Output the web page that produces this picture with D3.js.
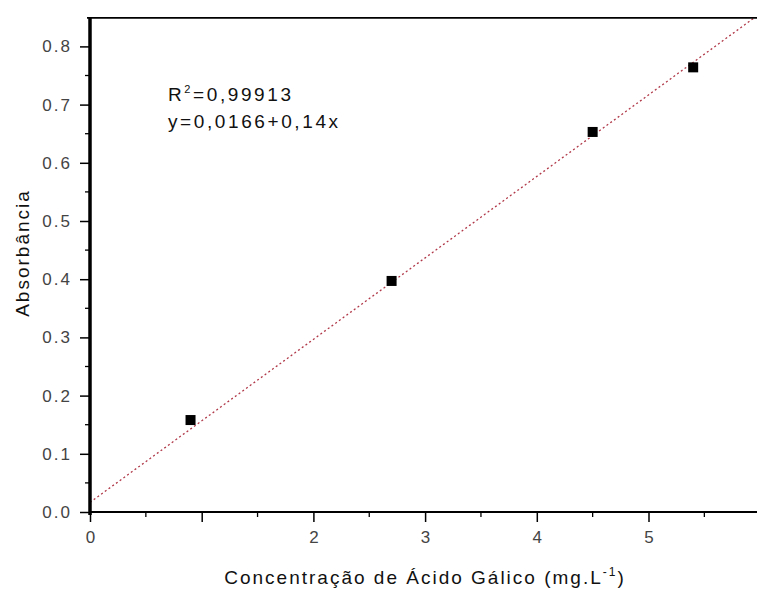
<!DOCTYPE html>
<html>
<head>
<meta charset="utf-8">
<script src="https://cdn.jsdelivr.net/npm/d3@7"></script>
<style>
  html, body { margin: 0; padding: 0; background: #fff; }
  svg { display: block; }
</style>
</head>
<body>
<svg id="chart" width="757" height="590"></svg>
<script>
// ---- data ----
const concentration = [0.90, 2.70, 4.50, 5.40];
const absorbance = [0.158, 0.397, 0.653, 0.764];
const fitIntercept = 0.0166;
const fitSlope = 0.14;
const xTickValues = [0, 1, 2, 3, 4, 5];
const xTickLabels = ["0", "", "2", "3", "4", "5"];
const yTickValues = [0.0, 0.1, 0.2, 0.3, 0.4, 0.5, 0.6, 0.7, 0.8];
const yTickLabels = ["0.0", "0.1", "0.2", "0.3", "0.4", "0.5", "0.6", "0.7", "0.8"];
const xTitle = "Concentração de Ácido Gálico (mg.L";
const yTitle = "Absorbância";
const r2Text = "=0,99913";
const eqText = "y=0,0166+0,14x";

// ---- layout ----
const svg = d3.select("#chart");
const mLeft = 90, mBottom = 512, mTop = 17.3, mRight = 760.2;
const x = d3.scaleLinear().domain([0, 6]).range([mLeft, mRight]);
const y = d3.scaleLinear().domain([0, 0.85]).range([mBottom, mTop]);
const font = "'Liberation Sans', Arial, sans-serif";

svg.append("rect").attr("width", 757).attr("height", 590).attr("fill", "#fff");

// clip for plot area
svg.append("defs").append("clipPath").attr("id", "plot")
  .append("rect").attr("x", mLeft).attr("y", mTop).attr("width", mRight - mLeft).attr("height", mBottom - mTop);

// regression line
const fitX = [0, 6];
svg.append("path")
  .datum(fitX)
  .attr("clip-path", "url(#plot)")
  .attr("d", d3.line().x(d => x(d)).y(d => y(fitIntercept + fitSlope * d)))
  .attr("fill", "none")
  .attr("stroke", "#b03848")
  .attr("stroke-width", 1.3)
  .attr("stroke-dasharray", "2,2.6");

// points
svg.append("g").selectAll("rect")
  .data(concentration.map((c, i) => [c, absorbance[i]]))
  .join("rect")
  .attr("x", d => x(d[0]) - 5)
  .attr("y", d => y(d[1]) - 5)
  .attr("width", 10).attr("height", 10)
  .attr("fill", "#000");

// minor ticks
const xMinor = d3.range(0.5, 6, 1);
svg.append("g").selectAll("line").data(xMinor).join("line")
  .attr("x1", d => x(d)).attr("x2", d => x(d))
  .attr("y1", mBottom).attr("y2", mBottom + 5)
  .attr("stroke", "#000").attr("stroke-width", 1.3);
const yMinor = d3.range(0.05, 0.85, 0.1);
svg.append("g").selectAll("line").data(yMinor).join("line")
  .attr("x1", mLeft - 5).attr("x2", mLeft)
  .attr("y1", d => y(d)).attr("y2", d => y(d))
  .attr("stroke", "#000").attr("stroke-width", 1.3);

// x axis
const xAxis = d3.axisBottom(x).tickValues(xTickValues)
  .tickFormat((d, i) => xTickLabels[i]).tickSize(10).tickPadding(9);
const gx = svg.append("g").attr("transform", `translate(0,${mBottom})`).call(xAxis);
gx.select(".domain").remove();
gx.selectAll(".tick line").attr("stroke", "#000").attr("stroke-width", 1.5);
gx.selectAll(".tick text").attr("font-family", font).attr("font-size", 17)
  .attr("fill", "#444");

// y axis
const yAxis = d3.axisLeft(y).tickValues(yTickValues)
  .tickFormat((d, i) => yTickLabels[i]).tickSize(10).tickPadding(8);
const gy = svg.append("g").attr("transform", `translate(${mLeft},0)`).call(yAxis);
gy.select(".domain").remove();
gy.selectAll(".tick line").attr("stroke", "#000").attr("stroke-width", 1.5);
gy.selectAll(".tick text").attr("font-family", font).attr("font-size", 17)
  .attr("fill", "#444").attr("letter-spacing", "2px");

// frame lines
svg.append("line").attr("x1", mLeft - 3).attr("x2", 757).attr("y1", mTop + 0.5).attr("y2", mTop + 0.5)
  .attr("stroke", "#000").attr("stroke-width", 1.8);
svg.append("line").attr("x1", mLeft).attr("x2", 757).attr("y1", mBottom).attr("y2", mBottom)
  .attr("stroke", "#000").attr("stroke-width", 2);
svg.append("line").attr("x1", mLeft).attr("x2", mLeft).attr("y1", mTop).attr("y2", mBottom + 3)
  .attr("stroke", "#000").attr("stroke-width", 3.5);

// axis titles
const xt = svg.append("text")
  .attr("x", 425).attr("y", 584)
  .attr("text-anchor", "middle")
  .attr("font-family", font).attr("font-size", 19).attr("letter-spacing", "2px")
  .attr("fill", "#111");
xt.append("tspan").text(xTitle);
xt.append("tspan").attr("font-size", 12).attr("dy", -8).text("-1");
xt.append("tspan").attr("dy", 8).text(")");

svg.append("text")
  .attr("transform", "translate(29,253) rotate(-90)")
  .attr("text-anchor", "middle")
  .attr("font-family", font).attr("font-size", 19).attr("letter-spacing", "2px")
  .attr("fill", "#111")
  .text(yTitle);

// annotation
const t1 = svg.append("text").attr("x", 168).attr("y", 101)
  .attr("font-family", font).attr("font-size", 19).attr("letter-spacing", "2.6px").attr("fill", "#111");
t1.append("tspan").text("R");
t1.append("tspan").attr("font-size", 11).attr("dy", -8).text("2");
t1.append("tspan").attr("dy", 8).text(r2Text);
svg.append("text").attr("x", 168).attr("y", 128)
  .attr("font-family", font).attr("font-size", 19).attr("letter-spacing", "2.6px").attr("fill", "#111")
  .text(eqText);
</script>
</body>
</html>
